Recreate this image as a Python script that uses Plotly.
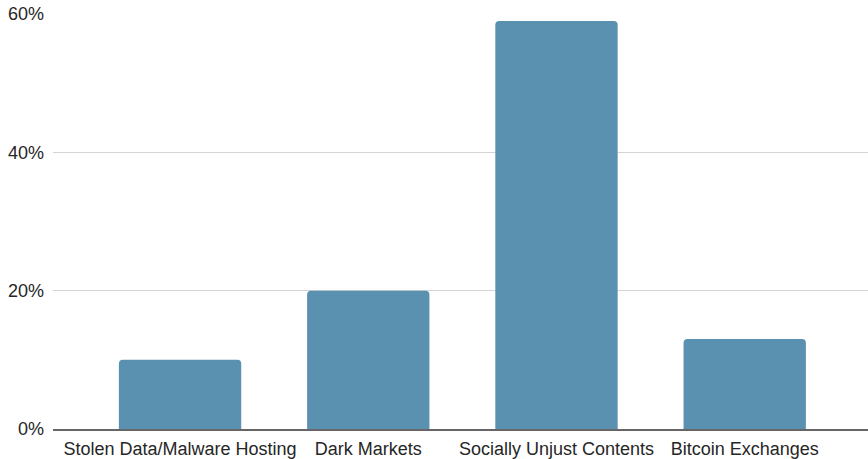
import plotly.graph_objects as go

# Share of sites by content category
categories = [
    "Stolen Data/Malware Hosting",
    "Dark Markets",
    "Socially Unjust Contents",
    "Bitcoin Exchanges",
]
shares = [0.10, 0.20, 0.59, 0.13]
y_ticks = [0, 0.2, 0.4, 0.6]
y_tick_labels = ["0%", "20%", "40%", "60%"]

fig = go.Figure(
    go.Bar(
        x=categories,
        y=shares,
        marker=dict(color="#5a91b0", cornerradius=4, line=dict(width=0)),
        hoverinfo="skip",
    )
)

fig.update_layout(
    width=868,
    height=459,
    margin=dict(l=53, r=0, t=14, b=30),
    paper_bgcolor="white",
    plot_bgcolor="white",
    bargap=0.35,
    showlegend=False,
    font=dict(family="Liberation Sans, Arial, sans-serif", size=18, color="#262626"),
)

fig.update_xaxes(
    type="category",
    range=[-0.675, 3.655],
    showgrid=False,
    showline=True,
    linecolor="#666666",
    linewidth=1.5,
    ticks="",
    ticklabelstandoff=3,
    tickfont=dict(size=18, color="#262626"),
)

fig.update_yaxes(
    range=[0, 0.6],
    tickvals=y_ticks,
    ticktext=y_tick_labels,
    showgrid=True,
    gridcolor="#d4d4d4",
    gridwidth=1.2,
    zeroline=False,
    showline=False,
    ticks="",
    ticklabelstandoff=8,
    tickfont=dict(size=18, color="#262626"),
)

fig.write_html("out.html")
